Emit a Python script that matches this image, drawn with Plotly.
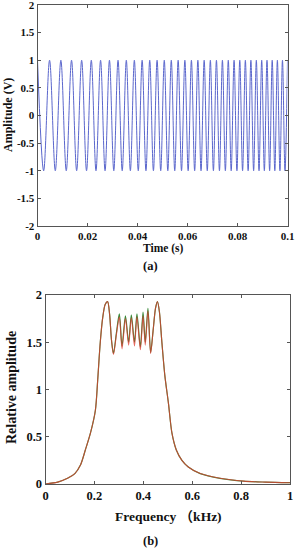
import plotly.graph_objects as go

# ---------------- (a) chirp signal: extremum times ----------------
chirp_t = [0, 0.002455, 0.004825, 0.007120, 0.009345, 0.011507, 0.013611, 0.015661,
           0.017661, 0.019615, 0.021525, 0.023395, 0.025227, 0.027023, 0.028785, 0.030516,
           0.032216, 0.033887, 0.035531, 0.037149, 0.038743, 0.040312, 0.041859, 0.043384,
           0.044888, 0.046372, 0.047837, 0.049284, 0.050712, 0.052124, 0.053518, 0.054897,
           0.056261, 0.057609, 0.058943, 0.060263, 0.061569, 0.062862, 0.064143, 0.065411,
           0.066667, 0.067911, 0.069144, 0.070365, 0.071576, 0.072777, 0.073967, 0.075147,
           0.076317, 0.077478, 0.078630, 0.079773, 0.080906, 0.082031, 0.083148, 0.084256,
           0.085357, 0.086449, 0.087534, 0.088611, 0.089681, 0.090743, 0.091798, 0.092846,
           0.093888, 0.094923, 0.095951, 0.096973, 0.097988, 0.098997, 0.1]
chirp_v = [1, -1, 1, -1, 1, -1, 1, -1, 1, -1, 1, -1, 1, -1, 1, -1, 1, -1, 1, -1,
           1, -1, 1, -1, 1, -1, 1, -1, 1, -1, 1, -1, 1, -1, 1, -1, 1, -1, 1, -1,
           1, -1, 1, -1, 1, -1, 1, -1, 1, -1, 1, -1, 1, -1, 1, -1, 1, -1, 1, -1,
           1, -1, 1, -1, 1, -1, 1, -1, 1, -1, 1]

# ---------------- (b) spectrum ----------------
freq = [0, 0.05, 0.09, 0.12, 0.143, 0.163, 0.184, 0.204, 0.214, 0.224, 0.234, 0.244,
        0.254, 0.262, 0.27, 0.278, 0.29, 0.302, 0.313, 0.327, 0.34, 0.351, 0.364,
        0.374, 0.388, 0.399, 0.408, 0.419, 0.43, 0.44, 0.45, 0.458, 0.466, 0.476,
        0.488, 0.503, 0.517, 0.535, 0.558, 0.584, 0.633, 0.714, 0.81, 0.9, 1.0]
amp_green = [0, 0.02, 0.06, 0.11, 0.2, 0.36, 0.54, 0.78, 1.12, 1.5, 1.76, 1.9,
             1.93, 1.8, 1.52, 1.38, 1.6, 1.8, 1.46, 1.78, 1.5, 1.79, 1.5,
             1.8, 1.45, 1.82, 1.5, 1.86, 1.39, 1.62, 1.86, 1.93, 1.82, 1.5,
             1.15, 0.85, 0.54, 0.36, 0.25, 0.18, 0.11, 0.06, 0.03, 0.02, 0.014]
amp_red = [0, 0.02, 0.06, 0.11, 0.2, 0.36, 0.54, 0.78, 1.12, 1.5, 1.76, 1.9,
           1.93, 1.8, 1.52, 1.37, 1.58, 1.77, 1.43, 1.75, 1.47, 1.76, 1.46,
           1.77, 1.42, 1.78, 1.47, 1.83, 1.38, 1.62, 1.86, 1.93, 1.82, 1.5,
           1.15, 0.85, 0.54, 0.36, 0.25, 0.18, 0.11, 0.06, 0.03, 0.02, 0.014]

a_xticks = [0, 0.02, 0.04, 0.06, 0.08, 0.1]
a_xlabels = ["0", "0.02", "0.04", "0.06", "0.08", "0.1"]
a_yticks = [-2, -1.5, -1, -0.5, 0, 0.5, 1, 1.5, 2]
a_ylabels = ["-2", "-1.5", "-1", "-0.5", "0", "0.5", "1", "1.5", "2"]
b_xticks = [0, 0.2, 0.4, 0.6, 0.8, 1]
b_xlabels = ["0", "0.2", "0.4", "0.6", "0.8", "1"]
b_yticks = [0, 0.5, 1, 1.5, 2]
b_ylabels = ["0", "0.5", "1", "1.5", "2"]

W, H = 299, 550
SERIF = "Liberation Serif, Times New Roman, Noto Sans CJK SC, serif"

fig = go.Figure()
fig.add_trace(go.Scatter(x=chirp_t, y=chirp_v, mode="lines",
                         line=dict(color="#5a66cc", width=1, shape="spline", smoothing=1),
                         xaxis="x", yaxis="y", showlegend=False))
fig.add_trace(go.Scatter(x=freq, y=amp_green, mode="lines",
                         line=dict(color="#3a8a3a", width=1.2, shape="spline", smoothing=0.8),
                         xaxis="x2", yaxis="y2", showlegend=False))
fig.add_trace(go.Scatter(x=freq, y=amp_red, mode="lines", opacity=0.75,
                         line=dict(color="#e03a30", width=1.1, shape="spline", smoothing=0.8),
                         xaxis="x2", yaxis="y2", showlegend=False))

def ax(domain, rng, tv, tt, size, anchor):
    return dict(domain=domain, range=rng, tickvals=tv, ticktext=tt, anchor=anchor,
                automargin=False, ticklabeloverflow="allow",
                showgrid=False, zeroline=False, showline=True, mirror="ticks",
                linecolor="#555555", linewidth=1, ticks="inside", ticklen=3,
                tickcolor="#555555",
                tickfont=dict(family=SERIF, size=size, color="#111111", weight="bold"))

fig.update_layout(
    width=W, height=H, margin=dict(l=0, r=0, t=0, b=0, autoexpand=False),
    paper_bgcolor="white", plot_bgcolor="white",
    xaxis=ax([37.5 / W, 287.5 / W], [0, 0.1], a_xticks, a_xlabels, 11, "y"),
    yaxis=ax([1 - 226 / H, 1 - 5 / H], [-2, 2], a_yticks, a_ylabels, 11, "x"),
    xaxis2=ax([45.5 / W, 290 / W], [0, 1], b_xticks, b_xlabels, 12.5, "y2"),
    yaxis2=ax([1 - 484 / H, 1 - 295 / H], [0, 2], b_yticks, b_ylabels, 12.5, "x2"),
)

def txt(s, x, y, size, angle=0):
    fig.add_annotation(text=s, x=x / W, y=1 - y / H, xref="paper", yref="paper",
                       showarrow=False, textangle=angle, xanchor="center", yanchor="middle",
                       font=dict(family=SERIF, size=size, color="#111111", weight="bold"))

txt("Time (s)", 163, 248, 11.5)
txt("Amplitude (V)", 8, 115, 12, -90)
txt("(a)", 150, 266, 12.5)
txt("Frequency （kHz)", 168, 516, 13.5)
txt("Relative amplitude", 11, 388, 14, -90)
txt("(b)", 150, 541, 12.5)

fig.write_html("out.html", config={"displayModeBar": False},
               post_script="document.body.style.margin='0';document.body.style.overflow='hidden';")
